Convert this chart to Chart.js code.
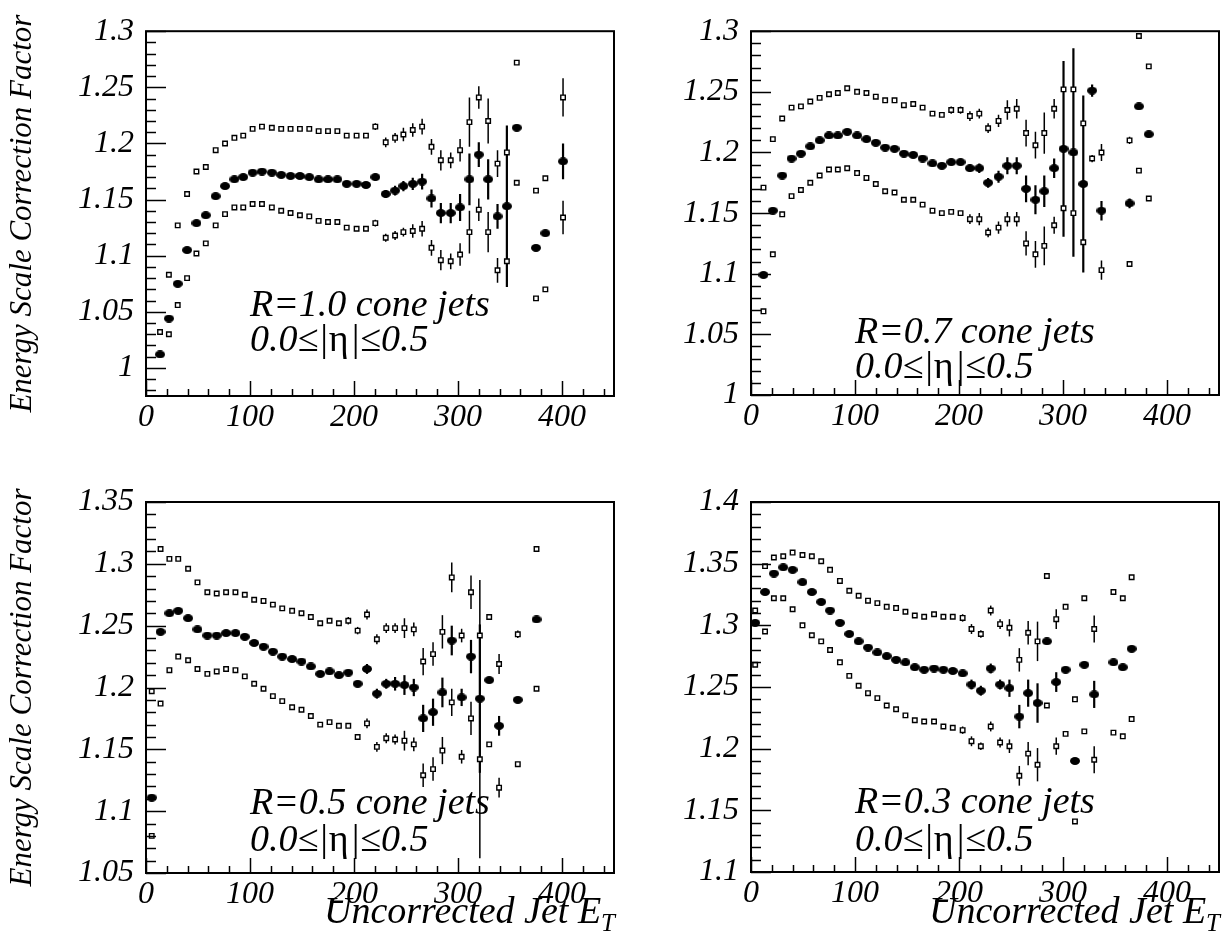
<!DOCTYPE html>
<html><head><meta charset="utf-8">
<script src="https://cdn.jsdelivr.net/npm/chart.js@4.4.1/dist/chart.umd.min.js"></script>
<style>
html,body{margin:0;padding:0;background:#fff;}
body{width:1225px;height:941px;position:relative;overflow:hidden;}
canvas{position:absolute;}
</style></head><body>
<canvas id="c1" width="620" height="450" style="left:0;top:0"></canvas>
<canvas id="c2" width="605" height="450" style="left:620px;top:0"></canvas>
<canvas id="c3" width="620" height="491" style="left:0;top:450px"></canvas>
<canvas id="c4" width="605" height="491" style="left:620px;top:450px"></canvas>
<script>
// ---------------- DATA ----------------
const X_TICKS = [0, 100, 200, 300, 400];
const X_TICK_LABELS = ['0', '100', '200', '300', '400'];
const Y_TICKS_R10 = [1, 1.05, 1.1, 1.15, 1.2, 1.25, 1.3];
const Y_LABELS_R10 = ['1', '1.05', '1.1', '1.15', '1.2', '1.25', '1.3'];
const Y_TICKS_R07 = [1, 1.05, 1.1, 1.15, 1.2, 1.25, 1.3];
const Y_LABELS_R07 = ['1', '1.05', '1.1', '1.15', '1.2', '1.25', '1.3'];
const Y_TICKS_R05 = [1.05, 1.1, 1.15, 1.2, 1.25, 1.3, 1.35];
const Y_LABELS_R05 = ['1.05', '1.1', '1.15', '1.2', '1.25', '1.3', '1.35'];
const Y_TICKS_R03 = [1.1, 1.15, 1.2, 1.25, 1.3, 1.35, 1.4];
const Y_LABELS_R03 = ['1.1', '1.15', '1.2', '1.25', '1.3', '1.35', '1.4'];
const Y_TITLE = 'Energy Scale Correction Factor';
const X_TITLE = 'Uncorrected Jet E';
const X_TITLE_SUB = 'T';
const ETA_PARTS = ['0.0\u2264|', '\u03b7', '|\u22640.5'];   // "0.0≤|η|≤0.5"
const CONE_R10 = 'R=1.0 cone jets';
const CONE_R07 = 'R=0.7 cone jets';
const CONE_R05 = 'R=0.5 cone jets';
const CONE_R03 = 'R=0.3 cone jets';

// R = 1.0
const et_R10 = [13.5,22,30.5,39.5,48.5,57.5,67,76,85,93.5,102.5,111.5,121,130,139,148,157,166,175,184,193,202.5,211.5,220.5,230.5,239.5,247.5,256.5,265.5,274.5,283.5,293,302,311,320,329,338,347,356.5,375,384,401];
const mid_R10 = [1.012,1.044,1.075,1.105,1.129,1.136,1.153,1.162,1.168,1.170,1.174,1.175,1.174,1.172,1.171,1.171,1.170,1.168,1.168,1.168,1.164,1.164,1.163,1.170,1.155,1.158,1.162,1.164,1.166,1.151,1.138,1.138,1.143,1.168,1.190,1.168,1.135,1.144,1.214,1.107,1.120,1.184];
const up_R10 = [1.032,1.083,1.127,1.155,1.175,1.179,1.194,1.200,1.205,1.207,1.213,1.215,1.214,1.213,1.213,1.213,1.213,1.211,1.211,1.211,1.207,1.207,1.207,1.215,1.201,1.205,1.208,1.212,1.215,1.197,1.185,1.185,1.194,1.219,1.241,1.220,1.182,1.192,1.272,1.158,1.169,1.241];
const lo_R10 = [null,1.030,1.056,1.080,1.102,1.111,1.127,1.137,1.143,1.143,1.146,1.146,1.143,1.140,1.138,1.136,1.135,1.131,1.130,1.130,1.125,1.124,1.124,1.129,1.116,1.118,1.121,1.122,1.124,1.107,1.096,1.095,1.101,1.121,1.141,1.121,1.087,1.095,1.165,1.062,1.070,1.134];
const errMid_R10 = [0,0,0,0,0,0,0,0,0,0,0,0,0,0,0,0,0,0,0,0,0,0,0,0.003,0.0035,0.0043,0.0045,0.0055,0.007,0.008,0.009,0.009,0.012,0.023,0.011,0.018,0.011,0.072,0,0,0,0.016];
const errUp_R10 = [0,0,0,0,0,0,0,0,0,0,0,0,0,0,0,0,0,0,0,0,0,0,0,0.003,0.0043,0.0043,0.006,0.006,0.007,0.007,0.009,0.007,0.010,0.022,0.010,0.020,0.012,0,0,0,0,0.017];
const errLo_R10 = [0,0,0,0,0,0,0,0,0,0,0,0,0,0,0,0,0,0,0,0,0,0,0,0.003,0.0035,0.004,0.004,0.006,0.007,0.007,0.009,0.007,0.010,0.019,0.010,0.018,0.011,0,0,0,0,0.015];

// R = 0.7
const et_R07 = [12,21,30,39,48,57,66,75,83.5,92.5,102,111,120,129,138,147,156,165,174.5,183.5,192.5,201.5,210.5,219.5,228,238,246.5,255.5,264.5,273.5,282,291.5,300.5,310,319.5,328,337,364,373,382.5];
const mid_R07 = [1.099,1.152,1.181,1.195,1.199,1.205,1.210,1.214,1.214,1.217,1.214,1.211,1.208,1.204,1.203,1.199,1.198,1.195,1.191,1.189,1.192,1.192,1.187,1.187,1.175,1.180,1.189,1.189,1.170,1.161,1.168,1.187,1.203,1.200,1.174,1.251,1.152,1.158,1.238,1.215];
const up_R07 = [1.171,1.211,1.228,1.237,1.238,1.242,1.245,1.248,1.249,1.253,1.250,1.249,1.246,1.243,1.243,1.239,1.240,1.237,1.232,1.231,1.235,1.235,1.230,1.232,1.220,1.226,1.235,1.236,1.216,1.206,1.216,1.236,1.252,1.252,1.224,null,1.200,1.210,1.296,1.271];
const lo_R07 = [1.069,1.116,1.149,1.164,1.169,1.175,1.181,1.186,1.186,1.187,1.183,1.179,1.174,1.168,1.167,1.161,1.161,1.157,1.152,1.150,1.151,1.150,1.145,1.145,1.134,1.138,1.145,1.145,1.125,1.116,1.123,1.140,1.154,1.150,1.126,1.195,1.103,1.108,1.185,1.162];
const errMid_R07 = [0,0,0,0,0,0,0,0,0,0,0,0,0,0,0,0,0,0,0,0,0,0,0.003,0.004,0.004,0.005,0.007,0.007,0.011,0.012,0.013,0.008,0.0725,0.086,0.073,0.005,0.008,0.004,0,0];
const errUp_R07 = [0,0,0,0,0,0,0,0,0,0,0,0,0,0,0,0,0,0,0,0,0.003,0.003,0.004,0.004,0.004,0.005,0.008,0.008,0.011,0.011,0.017,0.008,0,0,0,0,0.007,0.003,0,0];
const errLo_R07 = [0,0,0,0,0,0,0,0,0,0,0,0,0,0,0,0,0,0,0,0,0,0,0.004,0.005,0.004,0.005,0.006,0.006,0.010,0.011,0.016,0.007,0,0,0,0.003,0.008,0,0,0];

// R = 0.5
const et_R05 = [5.5,14,22.5,31,40.5,49.5,59,68,77,86,95,104,113,122,131,140.5,149.5,158.5,167.5,176.5,185.5,194.5,203.5,212.5,222,231,239.5,248.5,257.5,266.5,276,285,294,303.5,312.5,321,330,339.5,357.5,375.5];
const mid_R05 = [1.111,1.245,1.260,1.262,1.256,1.247,1.242,1.242,1.244,1.244,1.241,1.236,1.233,1.229,1.225,1.223,1.221,1.217,1.211,1.213,1.210,1.212,1.203,1.215,1.195,1.203,1.203,1.202,1.200,1.175,1.180,1.196,1.238,1.192,1.225,1.191,1.206,1.169,1.190,1.255];
const up_R05 = [1.197,1.312,1.304,1.304,1.296,1.285,1.277,1.276,1.277,1.277,1.275,1.271,1.270,1.267,1.264,1.262,1.260,1.257,1.252,1.254,1.252,1.254,1.246,1.259,1.239,1.248,1.248,1.248,1.247,1.221,1.227,1.245,1.289,1.242,1.277,1.242,1.257,1.219,1.243,1.312];
const lo_R05 = [1.080,1.187,1.214,1.225,1.222,1.215,1.211,1.213,1.215,1.214,1.209,1.203,1.199,1.193,1.189,1.184,1.182,1.177,1.170,1.172,1.169,1.169,1.160,1.171,1.152,1.159,1.158,1.157,1.154,1.129,1.134,1.149,1.188,1.144,1.175,1.142,1.154,1.119,1.138,1.199];
const errMid_R05 = [0,0,0,0,0,0,0,0,0,0,0,0,0,0,0,0,0,0,0,0,0,0,0,0.004,0.004,0.004,0.0055,0.008,0.007,0.011,0.011,0.012,0.012,0.007,0.0135,0.06,0,0.008,0,0];
const errUp_R05 = [0,0,0,0,0,0,0,0,0,0,0,0,0,0,0,0,0,0,0,0,0,0.003,0.003,0.004,0.004,0.004,0.004,0.008,0.0055,0.011,0.0095,0.0135,0.012,0.0055,0.0135,0.045,0,0.008,0.003,0];
const errLo_R05 = [0,0,0,0,0,0,0,0,0,0,0,0,0.002,0,0,0,0,0,0,0,0,0,0.002,0.004,0.004,0.004,0.004,0.008,0.0055,0.0095,0.0095,0.011,0.011,0.0055,0.0135,0.08,0,0.008,0,0];

// R = 0.3
const et_R03 = [4,13.5,22,31,40,49.5,58.5,67.5,76,85.5,94.5,103.5,112.5,121.5,130.5,139.5,148.5,157.5,166.5,176,185,194,203.5,212,221,230.5,239.5,248.5,258,266.5,275.5,284.5,293.5,302.5,311.5,320.5,330,348.5,357.5,366];
const mid_R03 = [1.302,1.327,1.342,1.347,1.345,1.335,1.327,1.319,1.312,1.302,1.293,1.287,1.282,1.278,1.275,1.272,1.270,1.266,1.264,1.265,1.264,1.263,1.261,1.252,1.247,1.265,1.252,1.249,1.226,1.245,1.237,1.287,1.254,1.264,1.190,1.268,1.244,1.270,1.266,1.281];
const up_R03 = [1.312,1.348,1.355,1.356,1.359,1.357,1.356,1.352,1.345,1.336,1.328,1.324,1.320,1.318,1.315,1.314,1.311,1.308,1.307,1.309,1.307,1.307,1.306,1.297,1.293,1.312,1.301,1.298,1.272,1.294,1.287,1.340,1.305,1.315,1.240,1.322,1.297,1.327,1.322,1.339];
const lo_R03 = [1.268,1.295,1.322,1.322,1.313,1.300,1.292,1.287,1.280,1.270,1.259,1.251,1.245,1.241,1.235,1.232,1.227,1.223,1.222,1.222,1.218,1.217,1.215,1.206,1.202,1.218,1.205,1.202,1.178,1.196,1.187,1.235,1.202,1.212,1.141,1.214,1.191,1.213,1.210,1.224];
const errMid_R03 = [0,0,0,0,0,0,0,0,0,0,0,0,0,0,0,0,0,0,0,0,0,0,0.002,0.004,0.004,0.004,0.004,0.007,0.0095,0.011,0.016,0,0.008,0,0,0,0.011,0,0,0];
const errUp_R03 = [0,0,0,0,0,0,0,0,0,0,0,0,0,0,0,0,0,0,0,0,0,0,0.003,0.004,0.003,0.004,0.004,0.007,0.0095,0.0095,0.016,0,0.008,0,0,0,0.011,0,0,0];
const errLo_R03 = [0,0,0,0,0,0,0,0,0,0,0,0,0,0,0,0,0,0,0,0,0,0,0.003,0.004,0.003,0.004,0.004,0.0055,0.008,0.0095,0.0135,0,0.007,0,0,0,0.011,0,0,0];

// ---------------- STYLE / LAYOUT ----------------
const FONT = '"Liberation Serif", "DejaVu Serif", serif';
function ellipseMarker(w, h) {
  const c = document.createElement('canvas');
  c.width = w; c.height = h;
  const g = c.getContext('2d');
  g.fillStyle = '#000';
  g.beginPath(); g.ellipse(w / 2, h / 2, w / 2, h / 2, 0, 0, Math.PI * 2); g.fill();
  return c;
}
const BIG = ellipseMarker(10, 8);

const panels = [
  { id: 'c1', et: et_R10, mid: mid_R10, up: up_R10, lo: lo_R10, eM: errMid_R10, eU: errUp_R10, eL: errLo_R10,
    ymin: 0.975, ymax: 1.3, yt: Y_TICKS_R10, yl: Y_LABELS_R10, cone: CONE_R10,
    W: 620, H: 450, area: { l: 146, r: 614, t: 22, b: 396 }, txt: [104, 285, 320], yTitle: true, xTitle: false },
  { id: 'c2', et: et_R07, mid: mid_R07, up: up_R07, lo: lo_R07, eM: errMid_R07, eU: errUp_R07, eL: errLo_R07,
    ymin: 1.0, ymax: 1.3, yt: Y_TICKS_R07, yl: Y_LABELS_R07, cone: CONE_R07,
    W: 605, H: 450, area: { l: 131, r: 599, t: 22, b: 395 }, txt: [104, 312, 347], yTitle: false, xTitle: false },
  { id: 'c3', et: et_R05, mid: mid_R05, up: up_R05, lo: lo_R05, eM: errMid_R05, eU: errUp_R05, eL: errLo_R05,
    ymin: 1.05, ymax: 1.35, yt: Y_TICKS_R05, yl: Y_LABELS_R05, cone: CONE_R05,
    W: 620, H: 491, area: { l: 146, r: 614, t: 52, b: 423 }, txt: [104, 312, 349], yTitle: true, xTitle: true },
  { id: 'c4', et: et_R03, mid: mid_R03, up: up_R03, lo: lo_R03, eM: errMid_R03, eU: errUp_R03, eL: errLo_R03,
    ymin: 1.1, ymax: 1.4, yt: Y_TICKS_R03, yl: Y_LABELS_R03, cone: CONE_R03,
    W: 605, H: 491, area: { l: 131, r: 599, t: 52, b: 422 }, txt: [104, 311, 349], yTitle: false, xTitle: true }
];

const errorBars = {
  id: 'errorBars',
  beforeDatasetsDraw(chart) {
    const { ctx, chartArea: a, scales: { x, y } } = chart;
    ctx.save();
    ctx.beginPath(); ctx.rect(a.left, a.top, a.right - a.left, a.bottom - a.top); ctx.clip();
    ctx.strokeStyle = '#000';
    chart.data.datasets.forEach(ds => {
      if (!ds.errors) return;
      ctx.lineWidth = ds.errWidth;
      ds.data.forEach((p, i) => {
        const e = ds.errors[i];
        if (!e || p.y == null) return;
        const px = x.getPixelForValue(p.x);
        ctx.beginPath();
        ctx.moveTo(px, y.getPixelForValue(p.y - e));
        ctx.lineTo(px, y.getPixelForValue(p.y + e));
        ctx.stroke();
      });
    });
    ctx.restore();
  }
};

const frameTicks = {
  id: 'frameTicks',
  afterDatasetsDraw(chart) {
    const { ctx, chartArea: a, scales: { x, y } } = chart;
    ctx.save();
    ctx.strokeStyle = '#000';
    ctx.lineWidth = 1.5;
    const y0 = Math.ceil(y.min * 100 - 1e-6), y1 = Math.floor(y.max * 100 + 1e-6);
    for (let k = y0; k <= y1; k++) {
      const py = Math.round(y.getPixelForValue(k / 100)) + 0.5;
      const len = (k % 5 === 0) ? 20 : 10;
      ctx.beginPath(); ctx.moveTo(a.left, py); ctx.lineTo(a.left + len, py); ctx.stroke();
    }
    for (let v = 0; v <= 440; v += 20) {
      const px = Math.round(x.getPixelForValue(v)) + 0.5;
      const len = (v % 100 === 0) ? 15 : 7;
      ctx.beginPath(); ctx.moveTo(px, a.bottom); ctx.lineTo(px, a.bottom - len); ctx.stroke();
    }
    ctx.lineWidth = 2;
    ctx.strokeRect(a.left, a.top, a.right - a.left, a.bottom - a.top);
    ctx.restore();
  }
};

const labelsPlugin = {
  id: 'labelsPlugin',
  afterDraw(chart, args, opts) {
    const { ctx, chartArea: a } = chart;
    ctx.save();
    ctx.fillStyle = '#000';
    ctx.textBaseline = 'alphabetic';
    ctx.textAlign = 'left';
    const fItal = 'italic 38px ' + FONT, fUp = '38px ' + FONT;
    ctx.font = fItal;
    const x0 = a.left + opts.txt[0];
    ctx.fillText(opts.cone, x0, a.top + opts.txt[1]);
    let xx = x0;
    const by = a.top + opts.txt[2];
    ETA_PARTS.forEach((s, i) => {
      ctx.font = (i === 1) ? fUp : fItal;
      ctx.fillText(s, xx, by);
      xx += ctx.measureText(s).width + (i === 1 ? 1 : 0);
    });
    if (opts.xTitle) {
      ctx.font = 'italic 25px ' + FONT;
      const wSub = ctx.measureText(X_TITLE_SUB).width;
      ctx.font = 'italic 38px ' + FONT;
      const wMain = ctx.measureText(X_TITLE).width;
      const right = a.right + 1;
      const base = chart.height - 18;
      ctx.fillText(X_TITLE, right - wSub - wMain, base);
      ctx.font = 'italic 25px ' + FONT;
      ctx.fillText(X_TITLE_SUB, right - wSub, base + 8);
    }
    ctx.restore();
  }
};

panels.forEach(P => {
  const pts = arr => P.et.map((x, i) => ({ x: x, y: arr[i] }));
  const sq = { pointStyle: 'rect', pointRadius: 3.2, pointBackgroundColor: '#fff', pointBorderColor: '#000', pointBorderWidth: 1.4, errWidth: 1.5, showLine: false };
  new Chart(document.getElementById(P.id), {
    type: 'scatter',
    data: {
      datasets: [
        Object.assign({ label: 'upper', data: pts(P.up), errors: P.eU }, sq),
        Object.assign({ label: 'lower', data: pts(P.lo), errors: P.eL }, sq),
        { label: 'correction', data: pts(P.mid), errors: P.eM, errWidth: 2.2, pointStyle: BIG, pointRadius: 5, showLine: false }
      ]
    },
    options: {
      responsive: false, animation: false, devicePixelRatio: 1,
      layout: { padding: { top: P.area.t, right: P.W - P.area.r, left: 0, bottom: 0 } },
      plugins: { legend: { display: false }, tooltip: { enabled: false },
        labelsPlugin: { cone: P.cone, txt: P.txt, xTitle: P.xTitle } },
      scales: {
        x: {
          type: 'linear', min: 0, max: 450,
          afterBuildTicks: s => { s.ticks = X_TICKS.map(v => ({ value: v })); },
          afterFit: s => { s.height = P.H - P.area.b; },
          grid: { display: false, drawTicks: false }, border: { display: false },
          ticks: { color: '#000', padding: 2, maxRotation: 0, autoSkip: false,
            font: { family: FONT, style: 'italic', size: 32 },
            callback: (v, i) => X_TICK_LABELS[i] }
        },
        y: {
          type: 'linear', min: P.ymin, max: P.ymax,
          afterBuildTicks: s => { s.ticks = P.yt.map(v => ({ value: v })); },
          afterFit: s => { s.width = P.area.l; },
          grid: { display: false, drawTicks: false }, border: { display: false },
          ticks: { color: '#000', padding: 12, autoSkip: false,
            font: { family: FONT, style: 'italic', size: 32 },
            callback: (v, i) => P.yl[i] },
          title: { display: P.yTitle, text: Y_TITLE, color: '#000', padding: { top: 4, bottom: 0 },
            font: { family: FONT, style: 'italic', size: 31 } }
        }
      }
    },
    plugins: [errorBars, frameTicks, labelsPlugin]
  });
});
</script>
</body></html>
